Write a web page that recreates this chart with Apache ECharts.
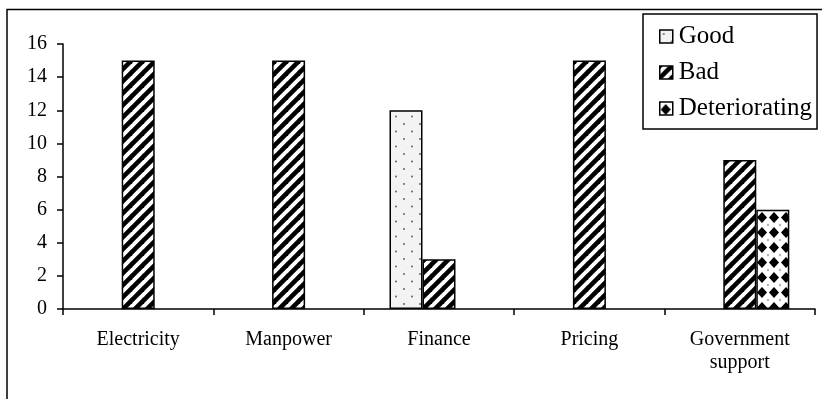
<!DOCTYPE html>
<html>
<head>
<meta charset="utf-8">
<script src="https://cdn.jsdelivr.net/npm/echarts@6/dist/echarts.min.js"></script>
<style>
  html, body { margin: 0; padding: 0; background: #fff; }
  #chart { width: 822px; height: 399px; }
</style>
</head>
<body>
<div id="chart"></div>
<script>
// Problem areas and how many respondents rated each one
const categories = ['Electricity', 'Manpower', 'Finance', 'Pricing', 'Government\nsupport'];
const good = [null, null, 12, null, null];
const bad = [15, 15, 3, 15, 9];
const deteriorating = [null, null, null, null, 6];
const yMin = 0, yMax = 16, yStep = 2;

// Fill patterns drawn on small tiles
function tile(size, draw) {
  const c = document.createElement('canvas');
  c.width = size.w; c.height = size.h;
  const g = c.getContext('2d');
  draw(g, size.w, size.h);
  return { image: c, repeat: 'repeat' };
}

const dottedFill = tile({ w: 16, h: 15 }, (g, w, h) => {
  g.fillStyle = '#f3f3f3';
  g.fillRect(0, 0, w, h);
  g.fillStyle = '#e6e6e6';
  [[2, 9], [9, 3], [13, 10], [6, 13], [11, 6]].forEach(p => g.fillRect(p[0], p[1], 1, 1));
  g.fillStyle = '#555';
  g.beginPath(); g.arc(4, 4, 0.9, 0, Math.PI * 2); g.fill();
  g.beginPath(); g.arc(12, 11.5, 0.9, 0, Math.PI * 2); g.fill();
});

const stripeFill = tile({ w: 12, h: 12 }, (g, w, h) => {
  g.fillStyle = '#fff';
  g.fillRect(0, 0, w, h);
  g.strokeStyle = '#000';
  g.lineWidth = 4.6;
  g.lineCap = 'square';
  [-w, 0, w].forEach(o => {
    g.beginPath();
    g.moveTo(o, h);
    g.lineTo(o + w, 0);
    g.stroke();
  });
});

const diamondFill = tile({ w: 12, h: 15 }, (g, w, h) => {
  g.fillStyle = '#fff';
  g.fillRect(0, 0, w, h);
  g.fillStyle = '#000';
  const diamond = (cx, cy, rx, ry) => {
    g.beginPath();
    g.moveTo(cx, cy - ry); g.lineTo(cx + rx, cy); g.lineTo(cx, cy + ry); g.lineTo(cx - rx, cy);
    g.closePath(); g.fill();
  };
  diamond(6, 7.5, 5, 5.6);
  g.fillStyle = '#aaa';
  [[0, 0], [w, 0], [0, h], [w, h]].forEach(p => diamond(p[0], p[1], 1.4, 1.6));
});

const serif = '"Liberation Serif", "Times New Roman", serif';

function barSeries(name, data, fill) {
  return {
    name: name,
    type: 'bar',
    data: data,
    barWidth: 33,
    barGap: '0%',
    itemStyle: { color: fill, borderColor: '#000', borderWidth: 1.5 },
    emphasis: { disabled: true }
  };
}

const chart = echarts.init(document.getElementById('chart'), null, { renderer: 'canvas' });
chart.setOption({
  animation: false,
  backgroundColor: '#fff',
  graphic: [{
    type: 'rect',
    z: -10,
    shape: { x: 7, y: 9.5, width: 840, height: 420 },
    style: { fill: 'none', stroke: '#000', lineWidth: 1.5 }
  }],
  grid: { left: 63, right: 7, top: 44, bottom: 90, containLabel: false },
  legend: {
    orient: 'vertical',
    left: 643,
    top: 14,
    padding: [10, 5, 8, 16],
    icon: 'rect',
    itemWidth: 13,
    itemHeight: 13,
    itemGap: 11,
    itemStyle: { borderColor: '#000', borderWidth: 1.5 },
    borderColor: '#000',
    borderWidth: 1.5,
    backgroundColor: '#fff',
    textStyle: { fontFamily: serif, fontSize: 25, color: '#000', padding: [0, 0, 0, 1] },
    data: ['Good', 'Bad', 'Deteriorating'],
    selectedMode: false
  },
  xAxis: {
    type: 'category',
    data: categories,
    axisLine: { lineStyle: { color: '#000', width: 1.5 } },
    axisTick: { show: true, length: 6, alignWithLabel: false, lineStyle: { color: '#000', width: 1.5 } },
    axisLabel: {
      interval: 0,
      margin: 19,
      fontFamily: serif,
      fontSize: 20,
      color: '#000',
      lineHeight: 23,
      align: 'center'
    },
    splitLine: { show: false }
  },
  yAxis: {
    type: 'value',
    min: yMin,
    max: yMax,
    interval: yStep,
    axisLine: { show: true, lineStyle: { color: '#000', width: 1.5 } },
    axisTick: { show: true, length: 6, lineStyle: { color: '#000', width: 1.5 } },
    axisLabel: { margin: 16, fontFamily: serif, fontSize: 20, color: '#000' },
    splitLine: { show: false }
  },
  series: [
    barSeries('Good', good, dottedFill),
    barSeries('Bad', bad, stripeFill),
    barSeries('Deteriorating', deteriorating, diamondFill)
  ]
});
</script>
</body>
</html>
